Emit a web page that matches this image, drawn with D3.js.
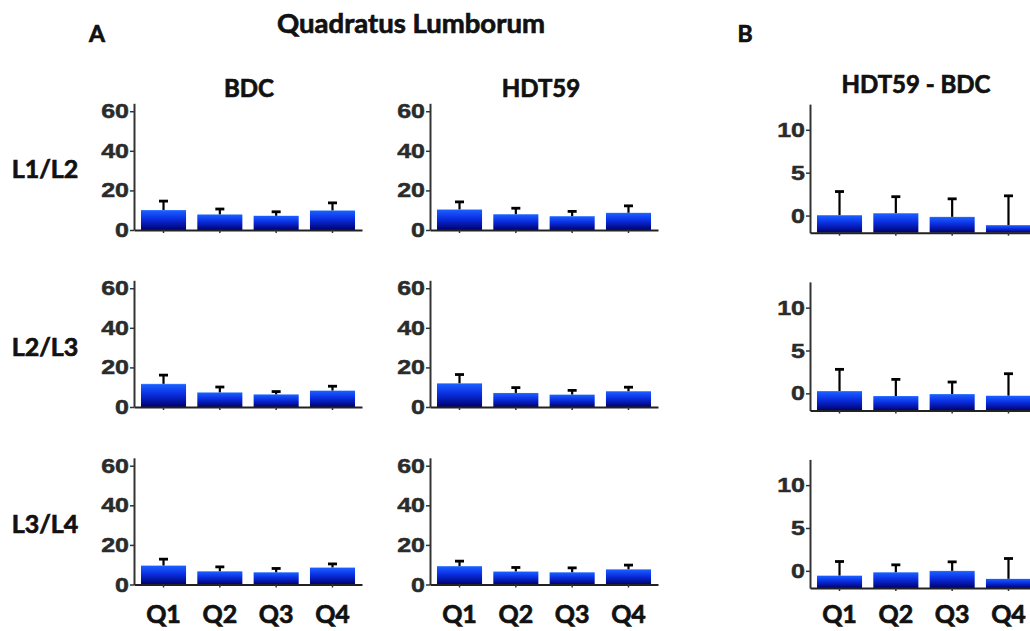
<!DOCTYPE html>
<html><head><meta charset="utf-8">
<script src="https://cdn.jsdelivr.net/npm/d3@7"></script>
<style>body{margin:0;background:#fff}svg{display:block}</style>
</head><body>
<svg id="c" width="1030" height="631"></svg>
<script>
// ---- data ----
const quarters = ["Q1","Q2","Q3","Q4"];
const levels = ["L1/L2","L2/L3","L3/L4"];
const bdcMean = [[10.1,7.9,7.2,9.9],[11.7,7.4,6.4,8.3],[9.6,6.7,6.2,8.6]];
const bdcErr  = [[4.5,2.7,2.0,3.8],[4.4,2.7,1.4,2.2],[3.2,2.2,1.9,1.8]];
const hdtMean = [[10.4,8.0,7.0,8.7],[12.0,7.1,6.3,8.0],[9.3,6.6,6.2,7.7]];
const hdtErr  = [[3.8,3.0,2.4,3.5],[4.4,2.7,2.1,2.0],[2.5,2.0,2.2,2.1]];
const diffMean = [[0.05,0.28,-0.15,-1.12],[0.27,-0.31,-0.08,-0.27],[-0.55,-0.16,0.0,-0.93]];
const diffErr  = [[2.75,1.92,2.1,3.42],[2.53,1.94,1.4,2.56],[1.64,0.86,1.05,2.37]];
const ticksA = [0,20,40,60];
const ticksB = [0,5,10];
const domainA = [0,64];
const domainB = [-2,13];
const colTitles = ["BDC","HDT59","HDT59 - BDC"];

// ---- layout ----
const svg = d3.select("#c");
const titleFont = "'Lato', 'Open Sans', sans-serif";
const tickFont = "'Liberation Sans', Arial, sans-serif";

const defs = svg.append("defs");
const grad = defs.append("linearGradient").attr("id","barGrad")
  .attr("x1",0).attr("y1",0).attr("x2",0).attr("y2",1);
[[0,"#4a8cff"],[0.05,"#1a5cff"],[0.45,"#0a2ee0"],[1,"#00006e"]].forEach(([o,c])=>
  grad.append("stop").attr("offset",o).attr("stop-color",c));

const panels = [];
const axisXs = [134, 430, 810];
const rowA = [230, 407, 584.5];
const rowB = [232.7, 410.5, 588];
for (let r=0;r<3;r++){
  panels.push({x:axisXs[0], base:rowA[r], h:126.7, dom:domainA, ticks:ticksA, mean:bdcMean[r], err:bdcErr[r], row:r});
  panels.push({x:axisXs[1], base:rowA[r], h:126.7, dom:domainA, ticks:ticksA, mean:hdtMean[r], err:hdtErr[r], row:r});
  panels.push({x:axisXs[2], base:rowB[r], h:128.6, dom:domainB, ticks:ticksB, mean:diffMean[r], err:diffErr[r], row:r});
}

const sx = 1.22;
panels.forEach(p=>{
  const x = d3.scaleBand().domain(quarters).range([p.x, p.x+228]).paddingInner(0.2).paddingOuter(0.124);
  const y = d3.scaleLinear().domain(p.dom).range([p.base, p.base-p.h]);
  const g = svg.append("g");
  // bars
  g.selectAll("rect.bar").data(quarters).join("rect").attr("class","bar")
    .attr("x",d=>x(d)).attr("width",x.bandwidth())
    .attr("y",(d,i)=>y(p.mean[i])).attr("height",(d,i)=>y(p.dom[0])-y(p.mean[i]))
    .attr("fill","url(#barGrad)");
  // error bars
  const eb = g.selectAll("g.eb").data(quarters).join("g").attr("class","eb");
  eb.append("line").attr("x1",d=>x(d)+x.bandwidth()/2).attr("x2",d=>x(d)+x.bandwidth()/2)
    .attr("y1",(d,i)=>y(p.mean[i])).attr("y2",(d,i)=>y(p.mean[i]+p.err[i]))
    .attr("stroke","#000").attr("stroke-width",2.2);
  eb.append("line").attr("x1",d=>x(d)+x.bandwidth()/2-4.5).attr("x2",d=>x(d)+x.bandwidth()/2+4.5)
    .attr("y1",(d,i)=>y(p.mean[i]+p.err[i])).attr("y2",(d,i)=>y(p.mean[i]+p.err[i]))
    .attr("stroke","#000").attr("stroke-width",2.8);
  // y axis
  const ya = g.append("g").attr("transform",`translate(${p.x},0)`)
    .call(d3.axisLeft(y).tickValues(p.ticks).tickSize(4).tickSizeOuter(0).tickFormat(d3.format("d")));
  ya.select(".domain").attr("stroke","#333").attr("stroke-width",2);
  ya.selectAll(".tick line").attr("stroke","#333").attr("stroke-width",1.5);
  ya.selectAll(".tick text").attr("x",-5/sx).attr("transform",`scale(${sx},1)`)
    .attr("font-family",tickFont).attr("font-weight","bold").attr("font-size",20.5)
    .attr("fill","#2b2b2b").attr("stroke","#2b2b2b").attr("stroke-width",0.5);
  // x axis
  const xa = g.append("g").attr("transform",`translate(0,${y(p.dom[0])})`)
    .call(d3.axisBottom(x).tickSize(3).tickSizeOuter(0).tickFormat(""));
  xa.select(".domain").attr("stroke","#222").attr("stroke-width",2);
  xa.selectAll(".tick line").attr("stroke","#333").attr("stroke-width",1.5);
  // quarter labels on bottom row
  if (p.row===2){
    g.selectAll("text.q").data(quarters).join("text").attr("class","q")
      .attr("x",d=>x(d)+x.bandwidth()/2).attr("y",623)
      .attr("text-anchor","middle").attr("font-family",titleFont).attr("font-weight","bold")
      .attr("font-size",25).attr("fill","#111").attr("stroke","#111").attr("stroke-width",0.7).text(d=>d);
  }
});

function label(txt,x,y,size){
  svg.append("text").attr("x",x).attr("y",y).attr("text-anchor","middle")
    .attr("font-family",titleFont).attr("font-weight","bold").attr("font-size",size)
    .attr("fill","#111").attr("stroke","#111").attr("stroke-width",0.7).text(txt);
}
label("Quadratus Lumborum", 411, 33, 27.5);
label("A", 97, 42, 23);
label("B", 745, 42, 23);
const colCenters = [249, 541, 916];
colTitles.forEach((t,i)=>label(t, colCenters[i], i===2?93:97, 24));
const rowCenters = [169, 347, 524];
levels.forEach((t,i)=>label(t, 45, rowCenters[i]+9, 25));
</script>
</body></html>
